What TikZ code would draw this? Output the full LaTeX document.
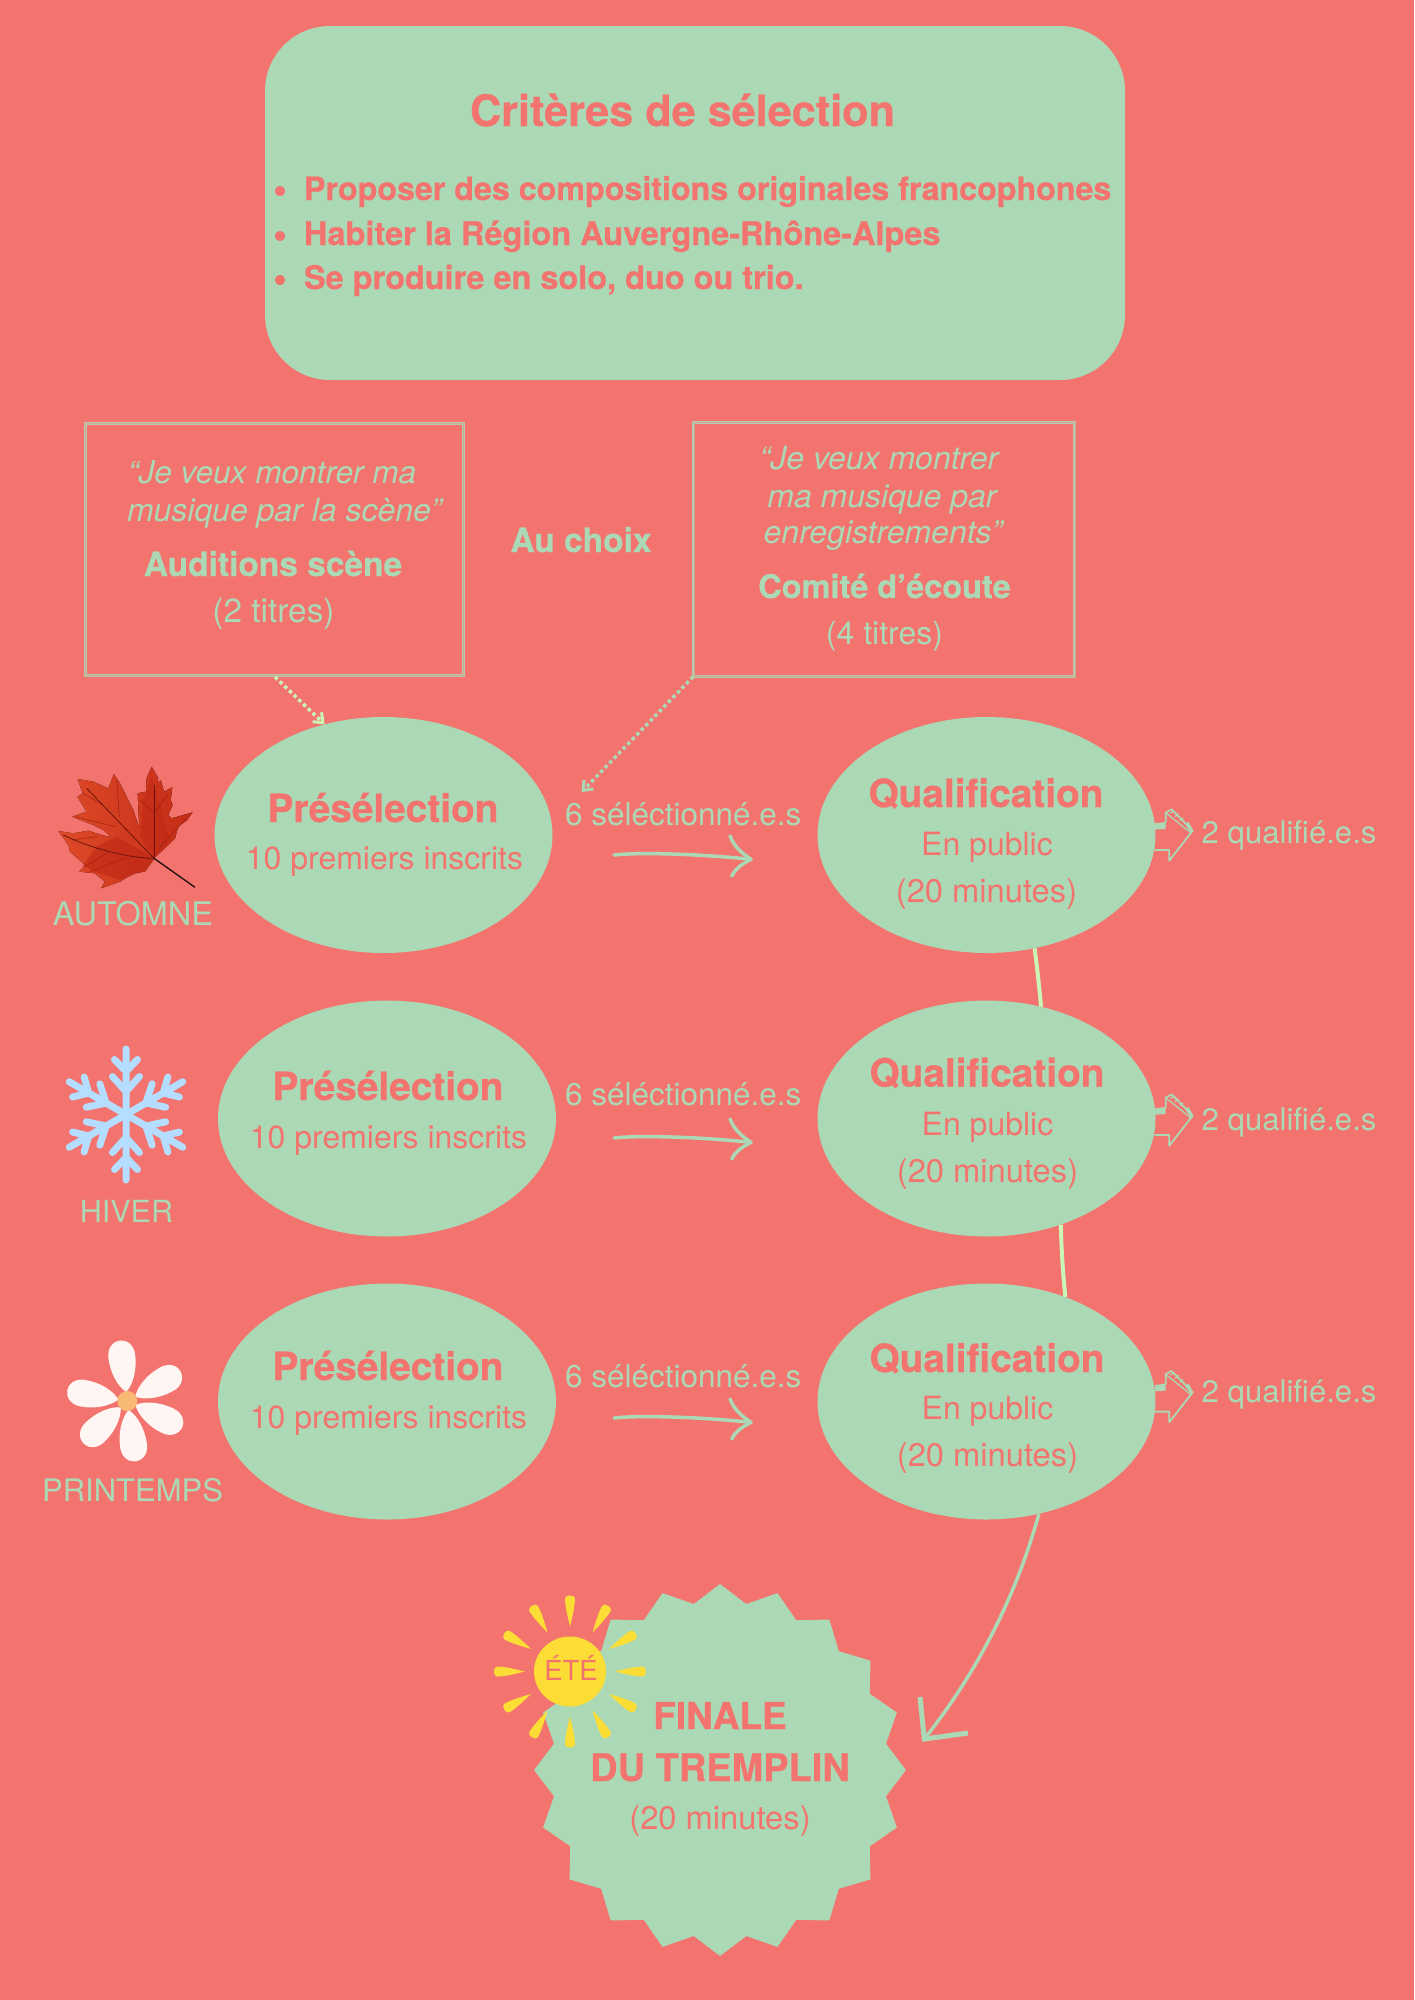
\documentclass[tikz,border=0pt]{standalone}
\usepackage{fontspec}
\setmainfont{TeX Gyre Heros}[BoldFeatures={FakeBold=0.6}]
\usetikzlibrary{shapes.geometric,arrows.meta}
\definecolor{bgc}{HTML}{F3736E}
\definecolor{grn}{HTML}{ABD9B6}
\definecolor{lit}{HTML}{CBF5B5}
\definecolor{sunc}{HTML}{FCDD35}
\definecolor{snow}{HTML}{B5DDFF}
\definecolor{petal}{HTML}{FFF5F2}
\definecolor{heart}{HTML}{F7B974}
\definecolor{leafa}{HTML}{DE4A28}
\definecolor{leafb}{HTML}{C42C16}
\definecolor{leafc}{HTML}{B82010}
\definecolor{veina}{HTML}{9A1E10}
\definecolor{veinb}{HTML}{6E140D}
\definecolor{stemc}{HTML}{2A1510}
\newcommand\fs[1]{\fontsize{#1}{#1}\selectfont}
\tikzset{
  x=1pt,y=-1pt,
  lab/.style={anchor=base,inner sep=0pt,outer sep=0pt},
  lableft/.style={anchor=base west,inner sep=0pt,outer sep=0pt},
  blob/.style={ellipse,fill=grn,inner sep=0pt,minimum width=338pt,minimum height=236pt},
  frame/.style={draw=grn!85!bgc,double=grn!55!bgc,double distance=0.6pt,line width=1.2pt,minimum width=#1},
  ln/.style={draw=grn,line width=3.5pt,line cap=round,line join=round},
  dots/.style={line width=3.5pt,dash pattern=on 3.5pt off 3pt,-{Straight Barb[length=8pt,width=13pt,line width=3pt]}},
  small/.style={font=\fs{32},text=grn},
  smallr/.style={font=\fs{32},text=bgc},
  minu/.style={font=\fs{32.7},text=bgc},
  head/.style={font=\bfseries\fs{38.8},text=bgc},
}
\newcommand\handarrow[1]{%
 \begin{scope}[shift={(1000pt,-#1pt)},x=0.3333pt,y=-0.3333pt]
  \fill[grn] (465,190)--(497,186)--(497,207)--(465,209)--cycle;
  \fill[grn] (555,192)--(566,186)--(580,212)--(574,220)--cycle;
  \draw[grn,line width=1.8pt,line join=round,line cap=round]
    (497,187)--(497,158)--(515,148)--(578,212)--(508,302)--(508,270)--(465,270);
  \draw[grn,line width=1.2pt,line cap=round] (497,158)--(512,170)--(574,220)
    (512,160)--(522,153) (525,170)--(535,162) (540,182)--(549,174);
 \end{scope}}
\newcommand\sketcharrow[2]{%
 \begin{scope}[shift={(0pt,-#1pt)}]
  \coordinate (#2s) at (614,855);
  \coordinate (#2e) at (751,859.3);
  \coordinate (#2a) at (730,836);
  \coordinate (#2b) at (731.7,876);
  \draw[ln] (#2s) .. controls (640,852) and (700,854) .. (#2e);
  \draw[ln] (#2a) .. controls (735,848) and (742,853) .. (#2e) .. controls (742,864) and (736,868) .. (#2b);
 \end{scope}}
\begin{document}
\begin{tikzpicture}
\useasboundingbox (0,0) rectangle (1414,2000);
\fill[bgc] (0,0) rectangle (1414,2000);

% top panel
\node[rectangle,rounded corners=65pt,fill=grn,minimum width=860pt,minimum height=354pt,inner sep=0pt] (crit) at (695,203) {};
\node[lab,font=\bfseries\fs{43.2},text=bgc] (crittitle) at (682.5,126) {Critères de sélection};
\node[lab,font=\bfseries\fs{40},text=bgc] (b1) at (280,203) {•};
\node[lab,font=\bfseries\fs{40},text=bgc] (b2) at (280,248) {•};
\node[lab,font=\bfseries\fs{40},text=bgc] (b3) at (280,292) {•};
\node[lableft,font=\bfseries\fs{32.2},text=bgc] (c1) at (304,200) {Proposer des compositions originales francophones};
\node[lableft,font=\bfseries\fs{32.5},text=bgc] (c2) at (304,245) {Habiter la Région Auvergne-Rhône-Alpes};
\node[lableft,font=\bfseries\fs{32.45},text=bgc] (c3) at (304,289) {Se produire en solo, duo ou trio.};

% choice boxes
\node[frame=378pt,minimum height=252pt,inner sep=0pt] (box1) at (274,549) {};
\node[frame=381pt,minimum height=254pt,inner sep=0pt] (box2) at (884.3,549) {};
\node[lableft,small,font=\itshape\fs{31.6}] (q1a) at (128,483) {“Je veux montrer ma};
\node[lableft,small,font=\itshape\fs{32}] (q1b) at (127,521) {musique par la scène”};
\node[lab,small,font=\bfseries\fs{33.5}] (aud) at (273,576) {Auditions scène};
\node[lab,small,font=\fs{33.4}] (t2) at (273.5,622) {(2 titres)};
\node[lab,font=\bfseries\fs{33.5},text=grn] (choix) at (581,552) {Au choix};
\node[lab,small,font=\itshape\fs{32}] (q2a) at (879,469) {“Je veux montrer};
\node[lab,small,font=\itshape\fs{32}] (q2b) at (882,507) {ma musique par};
\node[lab,small,font=\itshape\fs{32}] (q2c) at (883,543.5) {enregistrements”};
\node[lab,small,font=\bfseries\fs{32.5}] (com) at (884.5,598) {Comité d’écoute};
\node[lab,small] (t4) at (884.5,644) {(4 titres)};

% ellipses
\node[blob] (p1) at (383.5,835) {};
\node[blob] (p2) at (387,1118.5) {};
\node[blob] (p3) at (387,1401.5) {};
\node[blob] (q1) at (986.5,835) {};
\node[blob] (q2) at (986.5,1118.5) {};
\node[blob] (q3) at (986.5,1401.5) {};

\node[lab,head] (p1t) at (383,822) {Présélection};
\node[lab,smallr] (p1s) at (384.5,869) {10 premiers inscrits};
\node[lab,head] (p2t) at (388,1100) {Présélection};
\node[lab,smallr] (p2s) at (388.5,1148) {10 premiers inscrits};
\node[lab,head] (p3t) at (388,1380) {Présélection};
\node[lab,smallr] (p3s) at (388.5,1428) {10 premiers inscrits};

\node[lab,head] (q1t) at (986,807) {Qualification};
\node[lab,smallr] (q1s) at (987,855) {En public};
\node[lab,minu] (q1u) at (986.5,902) {(20 minutes)};
\node[lab,head] (q2t) at (987,1086.5) {Qualification};
\node[lab,smallr] (q2s) at (987.5,1135) {En public};
\node[lab,minu] (q2u) at (987.5,1182) {(20 minutes)};
\node[lab,head] (q3t) at (987,1372) {Qualification};
\node[lab,smallr] (q3s) at (987.5,1419) {En public};
\node[lab,minu] (q3u) at (987.5,1466) {(20 minutes)};

% seasons labels
\node[lab,small,font=\fs{32.5}] (aut) at (133,925) {AUTOMNE};
\node[lab,small,font=\fs{30.5}] (hiv) at (126.5,1222) {HIVER};
\node[lab,small,font=\fs{31}] (pri) at (132.5,1501) {PRINTEMPS};

% selected labels
\node[lableft,small,font=\fs{31.5}] (s1) at (565,825) {6 séléctionné.e.s};
\node[lableft,small,font=\fs{31.5}] (s2) at (565,1105) {6 séléctionné.e.s};
\node[lableft,small,font=\fs{31.5}] (s3) at (565,1387) {6 séléctionné.e.s};
\node[lableft,small,font=\fs{31.1}] (r1) at (1201.7,843) {2 qualifié.e.s};
\node[lableft,small,font=\fs{31.1}] (r2) at (1201.7,1130) {2 qualifié.e.s};
\node[lableft,small,font=\fs{31.1}] (r3) at (1201.7,1402) {2 qualifié.e.s};

% sketch arrows
\sketcharrow{0}{aa}
\sketcharrow{283}{ab}
\sketcharrow{563}{ac}
\handarrow{760}
\handarrow{1045}
\handarrow{1321.6}

% dotted connectors
\coordinate (d1) at (275,677);
\coordinate (d2) at (581.5,792);
\draw[lit,dots] (d1) -- (p1.118);
\draw[grn,dots] (box2.south west) -- (d2);

% vertical connectors
\draw[lit,line width=4pt] (q1.-67) to[bend left=1] (q2.64);
\draw[lit,line width=4pt] (q2.-55) to[bend right=2] (q3.53);

% finale
\node[star,star points=20,star point ratio=1.107,fill=grn,inner sep=0pt,minimum size=372pt] (fin) at (720,1770) {};
\node[lab,font=\bfseries\fs{37},text=bgc] (f1) at (720,1729) {FINALE};
\node[lab,font=\bfseries\fs{38},text=bgc] (f2) at (720,1781) {DU TREMPLIN};
\node[lab,minu] (f3) at (720,1829) {(20 minutes)};

\coordinate (fe) at (924.3,1739);
\coordinate (fa) at (920,1697);
\coordinate (fb) at (968,1733);
\draw[grn,line width=3.5pt] (q3.-65) .. controls (1015,1600) and (975,1675) .. (fe);
\draw[grn,line width=5pt,line join=miter] (fa) -- (fe) -- (fb);

% maple leaf
\begin{scope}[shift={(40pt,-750pt)},x=0.3333pt,y=-0.3333pt]
 \fill[left color=leafa,right color=leafb,draw=none]
 (335,50)--(355,85)--(352,100)--(362,90)--(372,125)--(397,112)--(392,150)--(398,165)--(385,195)--(395,205)--(458,187)--(440,212)--(415,228)--(405,265)--(385,285)--(345,322)--(340,330)--(315,365)--(280,370)--(240,395)--(183,415)--(195,395)--(165,370)--(118,365)--(135,345)--(90,305)--(85,285)--(55,243)--(100,250)--(145,242)--(185,255)--(215,262)--(190,240)--(160,225)--(97,200)--(140,185)--(112,140)--(128,130)--(113,87)--(160,95)--(205,115)--(222,72)--(240,100)--(265,150)--(280,180)--(298,235)--(293,130)--(318,125)--(320,85)--cycle;
 \fill[leafc,opacity=.45] (342,325)--(230,260)--(170,290)--(130,345)--(160,365)--(240,390)--(315,362)--cycle;
 \fill[leafc,opacity=.35] (342,325)--(300,260)--(310,150)--(335,80)--(365,180)--(390,270)--cycle;
 \draw[veina,line width=0.6pt,opacity=.8] (230,90)--(238,200) (105,200)--(225,230) (150,365)--(260,322) (440,205)--(352,300) (385,130)--(342,190) (300,150)--(342,190) (135,350)--(205,305) (130,130)--(190,165) (95,270)--(170,260);
 \draw[veinb,line width=0.8pt] (70,255) .. controls (150,295) and (270,325) .. (342,325);
 \draw[veinb,line width=0.8pt] (140,115)--(342,325);
 \draw[veinb,line width=0.8pt] (342,105)--(342,325);
 \draw[stemc,line width=1.4pt] (342,325)--(465,412);
\end{scope}

% snowflake
\begin{scope}[shift={(126pt,-1114.5pt)}]
 \foreach \a in {30,90,150,210,270,330}{
  \begin{scope}[rotate=\a]
   \draw[snow,line width=7pt,line cap=round,line join=round]
     (0,0)--(65.5,0) (38,-13.5)--(23,0)--(38,13.5) (55,-11.5)--(43,0)--(55,11.5);
  \end{scope}}
\end{scope}

% flower
\begin{scope}[shift={(127.3pt,-1401pt)}]
 \foreach \a in {97,29,-26,-82,-136,170}{
  \fill[petal,rotate=\a] (9,0) .. controls (16,-8) and (30,-13.5) .. (45,-13.5)
    .. controls (56,-13.5) and (61,-6) .. (61,0)
    .. controls (61,6) and (56,13.5) .. (45,13.5)
    .. controls (30,13.5) and (16,8) .. (9,0) -- cycle;}
 \fill[heart] (0,0) circle (10);
\end{scope}

% sun
\begin{scope}[shift={(570pt,-1671.5pt)}]
 \foreach \a in {0,30,...,330}{
  \fill[sunc,rotate=\a] (45,0) .. controls (55,-2.5) and (66,-5) .. (73,-5)
    .. controls (77,-5) and (77,5) .. (73,5)
    .. controls (66,5) and (55,2.5) .. (45,0) -- cycle;}
 \fill[sunc] (0,0) ellipse (36 and 35);
\end{scope}
\node[lab,font=\fs{27.5},text=bgc] (ete) at (571,1680) {ÉTÉ};
\end{tikzpicture}
\end{document}
